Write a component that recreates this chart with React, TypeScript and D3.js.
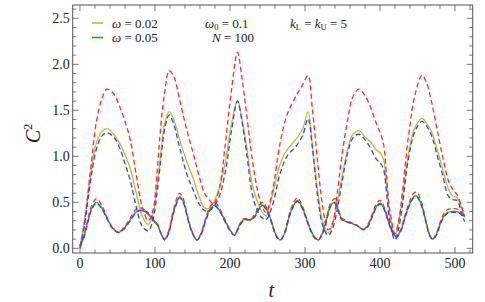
import React from "react";
import * as d3 from "d3";

// upper group (large oscillations)
const tUpper = [
  0, 5, 10, 15, 22, 29, 36, 45, 53, 60, 67, 75, 83, 91, 97, 103, 108, 113, 119, 125,
  133, 142, 151, 159, 166, 172, 178, 186, 194, 202, 210, 216, 222, 230, 237, 243, 248, 256, 267, 276,
  289, 297, 304, 310, 317, 324, 331, 337, 343, 350, 357, 364, 372, 380, 388, 395, 401, 405, 409, 413,
  420, 425, 430, 438, 447, 456, 462, 468, 476, 484, 491, 497, 503, 509, 513,
];
const yellowUpper = [
  0.02, 0.25, 0.55, 0.85, 1.15, 1.27, 1.3, 1.24, 1.14, 1.02, 0.87, 0.6, 0.35, 0.26, 0.36, 0.7, 1.05, 1.36, 1.485, 1.4,
  1.18, 0.95, 0.76, 0.56, 0.44, 0.435, 0.5, 0.66, 0.95, 1.35, 1.61, 1.4, 1.12, 0.68, 0.5, 0.39, 0.35, 0.56, 0.92, 1.07,
  1.195, 1.3, 1.485, 1.12, 0.62, 0.28, 0.165, 0.27, 0.5, 0.8, 1.08, 1.24, 1.28, 1.21, 1.15, 1.07, 1.03, 0.96, 0.67, 0.38,
  0.13, 0.3, 0.55, 1.03, 1.32, 1.41, 1.36, 1.28, 1.08, 0.85, 0.65, 0.57, 0.55, 0.43, 0.34,
];
const redUpper = [
  0.0, 0.22, 0.55, 0.92, 1.38, 1.62, 1.73, 1.68, 1.54, 1.38, 1.18, 0.8, 0.45, 0.3, 0.4, 0.85, 1.35, 1.7, 1.93, 1.87,
  1.61, 1.3, 1.03, 0.78, 0.6, 0.53, 0.48, 0.66, 1.15, 1.72, 2.13, 1.85, 1.47, 0.95, 0.62, 0.45, 0.39, 0.6, 1.15, 1.45,
  1.67, 1.78, 1.876, 1.5, 0.92, 0.43, 0.2, 0.28, 0.6, 1.05, 1.4, 1.65, 1.73, 1.66, 1.52, 1.36, 1.24, 1.12, 0.76, 0.42,
  0.16, 0.3, 0.62, 1.22, 1.68, 1.88, 1.8, 1.62, 1.3, 0.98, 0.74, 0.64, 0.58, 0.45, 0.35,
];
const blueUpper = [
  0.02, 0.2, 0.48, 0.78, 1.08, 1.22, 1.255, 1.21, 1.09, 0.92, 0.74, 0.45, 0.24, 0.19, 0.3, 0.62, 0.98, 1.3, 1.45, 1.35,
  1.09, 0.82, 0.63, 0.48, 0.41, 0.41, 0.45, 0.57, 0.84, 1.28, 1.6, 1.38, 1.05, 0.58, 0.4, 0.33, 0.31, 0.45, 0.82, 1.0,
  1.12, 1.23, 1.41, 1.08, 0.55, 0.24, 0.14, 0.22, 0.42, 0.75, 1.04, 1.2, 1.24, 1.18, 1.08, 0.97, 0.92, 0.85, 0.58, 0.3,
  0.09, 0.22, 0.48, 0.98, 1.28, 1.38, 1.33, 1.24, 1.02, 0.78, 0.57, 0.53, 0.52, 0.36, 0.29,
];

// lower group (small oscillations)
const tLower = [
  0, 5, 10, 16, 22, 29, 36, 43, 51, 59, 67, 74, 79, 86, 93, 99, 104, 108, 113, 118,
  124, 129, 133, 138, 144, 150, 156, 162, 168, 174, 180, 187, 194, 200, 206, 212, 218, 224, 229, 234,
  239, 244, 250, 256, 261, 267, 273, 279, 285, 290, 296, 302, 308, 313, 318, 323, 329, 334, 340, 344,
  349, 355, 362, 369, 374, 378, 384, 390, 395, 400, 405, 411, 416, 422, 428, 434, 440, 445, 449, 455,
  461, 466, 470, 475, 481, 486, 490, 496, 502, 508, 513,
];
const greenLower = [
  0.03, 0.12, 0.28, 0.44, 0.5, 0.44, 0.33, 0.23, 0.175, 0.22, 0.31, 0.39, 0.41, 0.4, 0.35, 0.29, 0.24, 0.16, 0.1, 0.17,
  0.37, 0.5, 0.56, 0.5, 0.32, 0.17, 0.09, 0.17, 0.32, 0.43, 0.47, 0.4, 0.29, 0.2, 0.145, 0.24, 0.31, 0.31, 0.315, 0.36,
  0.44, 0.47, 0.4, 0.27, 0.15, 0.09, 0.17, 0.35, 0.47, 0.52, 0.45, 0.32, 0.19, 0.12, 0.09, 0.16, 0.32, 0.46, 0.5, 0.42,
  0.32, 0.29, 0.27, 0.25, 0.22, 0.205, 0.25, 0.36, 0.45, 0.49, 0.44, 0.3, 0.19, 0.13, 0.2, 0.36, 0.49, 0.56, 0.57, 0.48,
  0.3, 0.15, 0.1, 0.15, 0.28, 0.36, 0.39, 0.4, 0.4, 0.38, 0.34,
];
const redLower = [
  0.0, 0.12, 0.3, 0.47, 0.54, 0.47, 0.34, 0.23, 0.175, 0.23, 0.33, 0.42, 0.44, 0.42, 0.36, 0.3, 0.25, 0.16, 0.1, 0.18,
  0.4, 0.54, 0.6, 0.53, 0.33, 0.17, 0.09, 0.18, 0.34, 0.46, 0.5, 0.42, 0.3, 0.2, 0.145, 0.25, 0.32, 0.32, 0.33, 0.38,
  0.47, 0.5, 0.42, 0.28, 0.15, 0.09, 0.18, 0.37, 0.5, 0.55, 0.47, 0.33, 0.19, 0.12, 0.09, 0.17, 0.34, 0.49, 0.54, 0.44,
  0.33, 0.3, 0.28, 0.25, 0.22, 0.205, 0.26, 0.38, 0.48, 0.52, 0.46, 0.31, 0.19, 0.13, 0.21, 0.38, 0.52, 0.6, 0.61, 0.51,
  0.31, 0.15, 0.1, 0.16, 0.3, 0.39, 0.42, 0.43, 0.43, 0.4, 0.35,
];
const blueLower = [
  0.03, 0.11, 0.27, 0.43, 0.49, 0.43, 0.32, 0.22, 0.17, 0.21, 0.3, 0.38, 0.41, 0.41, 0.37, 0.31, 0.25, 0.16, 0.09, 0.16,
  0.36, 0.49, 0.55, 0.49, 0.31, 0.16, 0.09, 0.16, 0.31, 0.42, 0.46, 0.39, 0.28, 0.19, 0.14, 0.23, 0.3, 0.31, 0.31, 0.35,
  0.43, 0.46, 0.39, 0.26, 0.14, 0.09, 0.16, 0.34, 0.46, 0.51, 0.44, 0.31, 0.18, 0.11, 0.09, 0.15, 0.31, 0.45, 0.49, 0.41,
  0.31, 0.29, 0.27, 0.25, 0.22, 0.2, 0.24, 0.35, 0.44, 0.48, 0.43, 0.29, 0.18, 0.12, 0.19, 0.35, 0.48, 0.55, 0.56, 0.47,
  0.29, 0.14, 0.1, 0.14, 0.27, 0.35, 0.38, 0.39, 0.39, 0.37, 0.33,
];

const xTicks = [0, 100, 200, 300, 400, 500];
const yTicks = [0, 0.5, 1, 1.5, 2, 2.5];

const YELLOW = "#bcbc34";
const GREEN = "#1fae1f";
const RED = "#ff2b2b";
const BLUE = "#2a45ff";

const W = 485;
const H = 302;
const left = 72.7, right = 472.7, top = 5, bottom = 253;

export default function App() {
  const x = d3.scaleLinear().domain([-9.7, 523.6]).range([left, right]);
  const y = d3.scaleLinear().domain([-0.051, 2.645]).range([bottom, top]);

  const line = (ts: number[], vs: number[]) =>
    d3
      .line<number>()
      .x((_, i) => x(ts[i]))
      .y((v) => y(v))
      .curve(d3.curveCatmullRom.alpha(0.5))(vs) || "";

  const series = [
    { ts: tUpper, vs: yellowUpper, color: YELLOW, dash: undefined },
    { ts: tLower, vs: greenLower, color: GREEN, dash: undefined },
    { ts: tUpper, vs: redUpper, color: RED, dash: "5,3" },
    { ts: tLower, vs: redLower, color: RED, dash: "5,3" },
    { ts: tUpper, vs: blueUpper, color: BLUE, dash: "5,3" },
    { ts: tLower, vs: blueLower, color: BLUE, dash: "5,3" },
  ];

  const xMinor = d3.range(0, 521, 20);
  const yMinor = d3.range(0, 2.61, 0.1);
  const fmt = d3.format(".1f");
  const font = '"Times New Roman", Times, "Liberation Serif", "DejaVu Serif", serif';
  const frame = "#555";

  return (
    <svg width={W} height={H} style={{ position: "absolute", left: 0, top: 0, background: "#fff", fontFamily: font }}>
      <defs>
        <clipPath id="plot">
          <rect x={left} y={top} width={right - left} height={bottom - top} />
        </clipPath>
      </defs>
      <g clipPath="url(#plot)" fill="none" strokeWidth={1.3}>
        {series.map((s, i) => (
          <path key={i} d={line(s.ts, s.vs)} stroke={s.color} strokeDasharray={s.dash} />
        ))}
      </g>
      {/* ticks, inward on all sides */}
      <g stroke={frame} strokeWidth={0.8}>
        {xMinor.map((t) => {
          const len = t % 100 === 0 ? 6 : 3.5;
          return (
            <g key={"x" + t}>
              <line x1={x(t)} x2={x(t)} y1={bottom} y2={bottom - len} />
              <line x1={x(t)} x2={x(t)} y1={top} y2={top + len} />
            </g>
          );
        })}
        {yMinor.map((v, i) => {
          const len = i % 5 === 0 ? 6 : 3.5;
          return (
            <g key={"y" + i}>
              <line x1={left} x2={left + len} y1={y(v)} y2={y(v)} />
              <line x1={right} x2={right - len} y1={y(v)} y2={y(v)} />
            </g>
          );
        })}
      </g>
      <rect x={left} y={top} width={right - left} height={bottom - top} fill="none" stroke={frame} strokeWidth={1} />
      <g fontSize={14} fill="#222">
        {xTicks.map((t) => (
          <text key={t} x={x(t)} y={bottom + 15} textAnchor="middle">
            {t}
          </text>
        ))}
        {yTicks.map((v) => (
          <text key={v} x={left - 3} y={y(v) + 4.5} textAnchor="end">
            {fmt(v)}
          </text>
        ))}
      </g>
      <text x={x(255)} y={297} fontSize={20} fontStyle="italic" textAnchor="middle" fill="#222">
        t
      </text>
      <text transform={`translate(40,${y(1.25)}) rotate(-90)`} fontSize={20} textAnchor="middle" fill="#222">
        <tspan fontStyle="italic">C</tspan>
        <tspan fontSize={12} dy={-8}>2</tspan>
      </text>
      {/* legend */}
      <g fontSize={13} fill="#222">
        <line x1={92} x2={103} y1={23} y2={23} stroke={YELLOW} strokeWidth={1.6} />
        <line x1={92} x2={103} y1={37.5} y2={37.5} stroke={GREEN} strokeWidth={1.6} />
        <text x={112} y={27.5}>
          <tspan fontStyle="italic">ω</tspan> = 0.02
        </text>
        <text x={112} y={42}>
          <tspan fontStyle="italic">ω</tspan> = 0.05
        </text>
        <text x={205} y={27.5}>
          <tspan fontStyle="italic">ω</tspan>
          <tspan fontSize={8.5} dy={2}>0</tspan>
          <tspan dy={-2}> = 0.1</tspan>
        </text>
        <text x={212} y={42}>
          <tspan fontStyle="italic">N</tspan> = 100
        </text>
        <text x={290} y={27.5}>
          <tspan fontStyle="italic">k</tspan>
          <tspan fontSize={8.5} dy={2}>L</tspan>
          <tspan dy={-2}> = </tspan>
          <tspan fontStyle="italic">k</tspan>
          <tspan fontSize={8.5} dy={2}>U</tspan>
          <tspan dy={-2}> = 5</tspan>
        </text>
      </g>
    </svg>
  );
}
